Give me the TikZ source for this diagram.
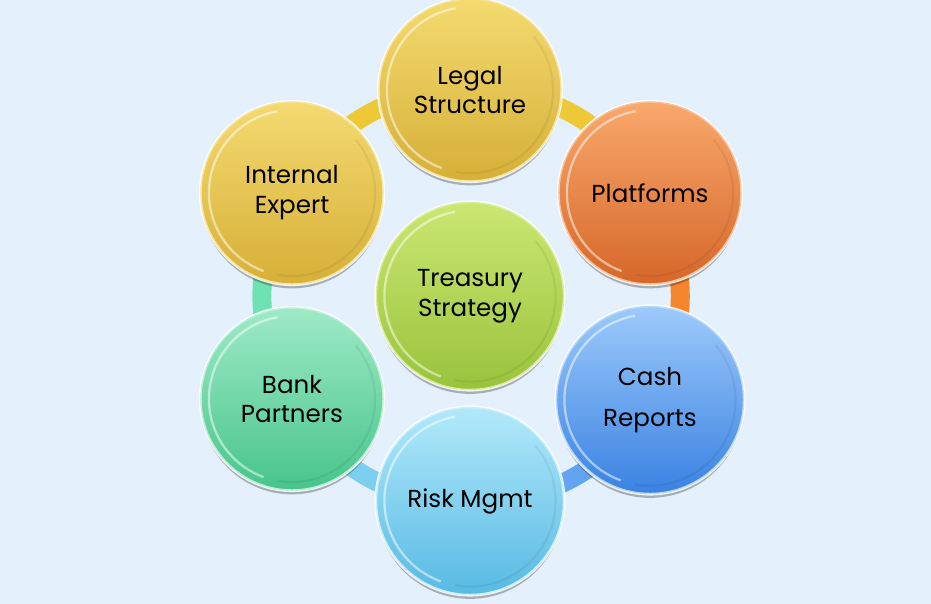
\documentclass[tikz,border=0pt]{standalone}
\usepackage{fontspec}
\setmainfont{Poppins}
\usepackage{tikz}
\usetikzlibrary{calc,shadows}
\definecolor{BgBlue}{HTML}{E5F0FD}
\definecolor{GoldTop}{HTML}{F4DA70}
\definecolor{GoldBot}{HTML}{D6B038}
\definecolor{OrangeTop}{HTML}{F9A86C}
\definecolor{OrangeBot}{HTML}{D6672A}
\definecolor{BlueTop}{HTML}{9DCAFB}
\definecolor{BlueBot}{HTML}{3A82E2}
\definecolor{SkyTop}{HTML}{B2E9FA}
\definecolor{SkyBot}{HTML}{58BAE4}
\definecolor{MintTop}{HTML}{9EEAC6}
\definecolor{MintBot}{HTML}{48C48C}
\definecolor{LimeTop}{HTML}{CAE772}
\definecolor{LimeBot}{HTML}{9AC33C}
\definecolor{LinkGold}{HTML}{EEC937}
\definecolor{LinkOrange}{HTML}{F5862E}
\definecolor{LinkBlue}{HTML}{62A4F0}
\definecolor{LinkSky}{HTML}{7CCFF0}
\definecolor{LinkMint}{HTML}{6FE2B4}
\pgfdeclarelayer{bg}
\pgfdeclarelayer{links}
\pgfsetlayers{bg,links,main}

\begin{document}
\begin{tikzpicture}[x=0.02cm,y=-0.02cm]
  \tikzset{
    bubble/.style={circle,minimum size=3.64cm,inner sep=0pt,align=center,
      font=\fontsize{14}{17}\selectfont,text=black,
      drop shadow={shadow xshift=0pt,shadow yshift=-2.5pt,opacity=.28,fill=black},
      preaction={draw=white,line width=2.4pt,opacity=.85},
      path picture={
        \draw[white,opacity=.5,line width=1.3pt]
          let \p1=(path picture bounding box.center),
              \p2=(path picture bounding box.north),
              \n1={\y2-\y1-4.5pt} in
          ($(\p1)+(100:\n1)$) arc (100:250:\n1);
        \draw[black,opacity=.06,line width=1.2pt]
          let \p1=(path picture bounding box.center),
              \p2=(path picture bounding box.north),
              \n1={\y2-\y1-4.5pt} in
          ($(\p1)+(260:\n1)$) arc (260:400:\n1);
      }},
    gold/.style={bubble,top color=GoldTop,bottom color=GoldBot,draw=GoldTop!70!white,line width=.8pt},
    orange/.style={bubble,top color=OrangeTop,bottom color=OrangeBot,draw=OrangeTop!70!white,line width=.8pt},
    blue/.style={bubble,top color=BlueTop,bottom color=BlueBot,draw=BlueTop!70!white,line width=.8pt},
    sky/.style={bubble,top color=SkyTop,bottom color=SkyBot,draw=SkyTop!70!white,line width=.8pt},
    mint/.style={bubble,top color=MintTop,bottom color=MintBot,draw=MintTop!70!white,line width=.8pt},
    lime/.style={bubble,top color=LimeTop,bottom color=LimeBot,draw=LimeTop!70!white,line width=.8pt},
    link/.style={line width=.38cm}
  }
  \begin{pgfonlayer}{bg}
    \fill[BgBlue] (0,0) rectangle (931,604);
  \end{pgfonlayer}
  \useasboundingbox (0,0) rectangle (931,604);

  \node[lime,minimum size=3.74cm] (treas) at (470,296) {Treasury\\Strategy};
  \node[gold] (legal) at (470,90) {Legal\\Structure};
  \node[orange] (plat) at (650,193) {Platforms};
  \node[blue,minimum size=3.74cm] (cash) at (650,400) {Cash\\[.22cm]Reports};
  \node[sky,minimum size=3.74cm] (risk) at (470,501) {Risk Mgmt};
  \node[mint] (bank) at (292,399) {Bank\\Partners};
  \node[gold] (intern) at (292,193) {Internal\\Expert};

  % ring behind the circles
  \begin{pgfonlayer}{links}
    \draw[link,LinkGold] (legal.center) to[bend left=30] (plat.center);
    \draw[link,LinkOrange] (plat.center) to[bend left=30] (cash.center);
    \draw[link,LinkBlue] (cash.center) to[bend left=30] (risk.center);
    \draw[link,LinkSky] (risk.center) to[bend left=30] (bank.center);
    \draw[link,LinkMint] (bank.center) to[bend left=30] (intern.center);
    \draw[link,LinkGold] (intern.center) to[bend left=30] (legal.center);
  \end{pgfonlayer}
\end{tikzpicture}
\end{document}
